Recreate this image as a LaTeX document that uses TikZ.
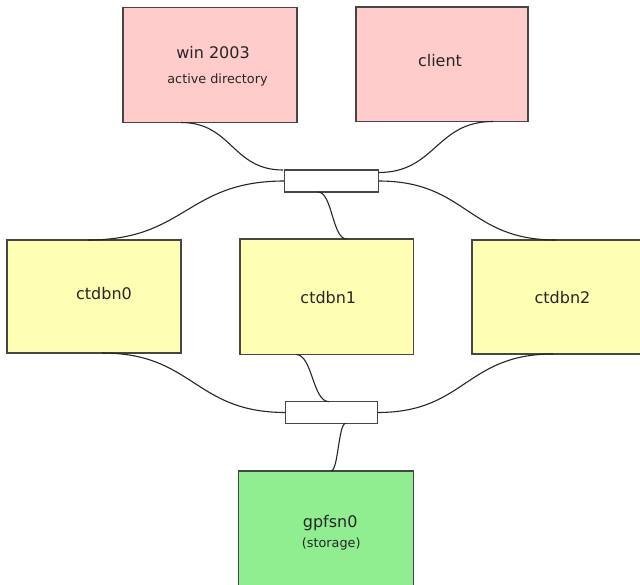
\documentclass[tikz,border=0pt]{standalone}
\usepackage{fontspec}
\setmainfont{DejaVu Sans}
\usetikzlibrary{calc}
\definecolor{pinkfill}{RGB}{255,204,204}
\definecolor{yellowfill}{RGB}{255,255,179}
\definecolor{greenfill}{RGB}{144,238,144}
\definecolor{edgegray}{RGB}{70,70,70}
\tikzset{
  box/.style={draw=edgegray, line width=1.2pt, rectangle, inner sep=0pt, outer sep=0pt},
  pinkbox/.style={box, fill=pinkfill},
  yellowbox/.style={box, fill=yellowfill},
  greenbox/.style={box, fill=greenfill},
  switchbox/.style={box, fill=white},
  biglbl/.style={anchor=base, inner sep=0pt, font=\fontsize{16}{19}\selectfont, text=black!85},
  smalllbl/.style={anchor=base, inner sep=0pt, font=\fontsize{12.8}{15}\selectfont, text=black!85},
  link/.style={draw=black!85, line width=1.1pt}
}
\newcommand\sconn[2]{\draw[link] let \p1=(#1), \p2=(#2) in (\p1) .. controls ({(\x1+\x2)/2},\y1) and ({(\x1+\x2)/2},\y2) .. (\p2);}
\begin{document}
\begin{tikzpicture}[x=1pt,y=-1pt]
\clip (0,0) rectangle (640,584);
\fill[white] (0,0) rectangle (640,584);
% boxes
\node[pinkbox, minimum width=174pt, minimum height=115pt] (win) at (210,65) {};
\node[pinkbox, minimum width=172pt, minimum height=114.5pt] (client) at (442,64.25) {};
\node[switchbox, minimum width=94pt, minimum height=22pt] (sw1) at (331.5,181) {};
\node[yellowbox, minimum width=174pt, minimum height=113pt] (c0) at (94,296.5) {};
\node[yellowbox, minimum width=173.3pt, minimum height=115.5pt] (c1) at (326.6,296.75) {};
\node[yellowbox, minimum width=174pt, minimum height=114pt] (c2) at (559,297) {};
\node[switchbox, minimum width=92pt, minimum height=21.6pt] (sw2) at (331.7,412.5) {};
\node[greenbox, minimum width=175pt, minimum height=115pt] (gp) at (326,528.5) {};
% labels
\node[biglbl] (twin) at (213,58.3) {win 2003};
\node[smalllbl] (tad) at (217.5,83) {active directory};
\node[biglbl] (tclient) at (440,66.7) {client};
\node[biglbl] (tc0) at (104,299.3) {ctdbn0};
\node[biglbl] (tc1) at (328.3,303) {ctdbn1};
\node[biglbl] (tc2) at (562.5,303) {ctdbn2};
\node[biglbl] (tgp) at (330.2,527.7) {gpfsn0};
\node[smalllbl] (tst) at (331.2,547.5) {(storage)};
% connectors
\sconn{[xshift=-29pt]win.south}{[xshift=-1.5pt]sw1.north west}
\sconn{[xshift=51pt]client.south}{[yshift=-2.5pt]sw1.north east}
\sconn{sw1.west}{[xshift=-6pt]c0.north}
\sconn{[xshift=-13.5pt]sw1.south}{[xshift=20pt]c1.north}
\sconn{sw1.east}{[xshift=-3pt]c2.north}
\sconn{[xshift=8pt]c0.south}{sw2.west}
\sconn{[xshift=-30.6pt]c1.south}{[xshift=-2.7pt]sw2.north}
\sconn{[xshift=-6pt]c2.south}{sw2.east}
\sconn{[xshift=14pt]sw2.south}{[xshift=5pt]gp.north}
\end{tikzpicture}
\end{document}
